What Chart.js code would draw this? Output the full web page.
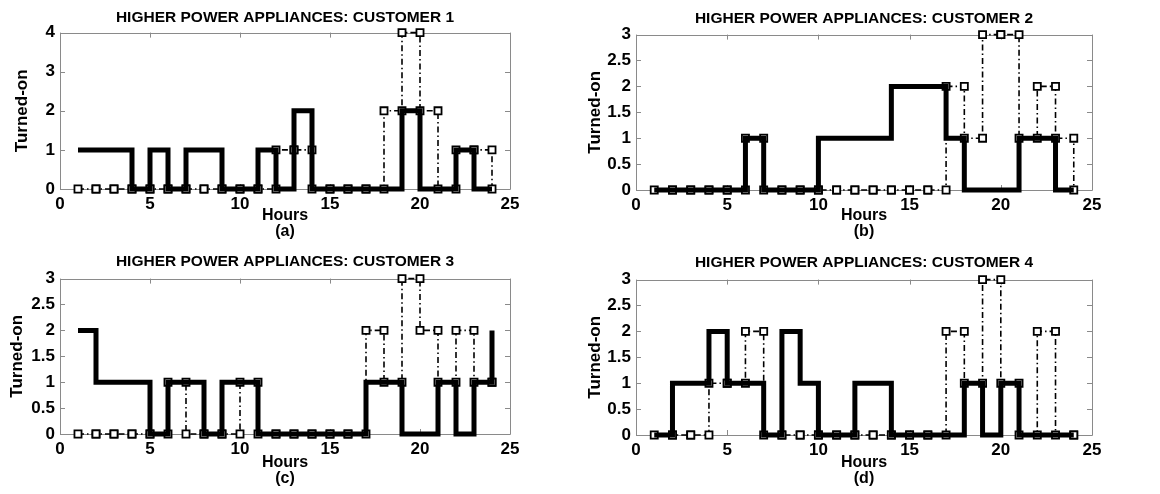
<!DOCTYPE html>
<html><head><meta charset="utf-8">
<script src="https://cdn.jsdelivr.net/npm/chart.js@4.4.1/dist/chart.umd.min.js"></script>
<style>
html,body{margin:0;padding:0;background:#fff;}
#wrap{position:relative;width:1160px;height:494px;background:#fff;}
.panel{position:absolute;width:580px;height:247px;}
canvas{display:block;}
</style></head><body>
<div id="wrap">
<div class="panel" style="left:0;top:0"><canvas id="c1" width="580" height="247"></canvas></div>
<div class="panel" style="left:580px;top:0"><canvas id="c2" width="580" height="247"></canvas></div>
<div class="panel" style="left:0;top:247px"><canvas id="c3" width="580" height="247"></canvas></div>
<div class="panel" style="left:580px;top:247px"><canvas id="c4" width="580" height="247"></canvas></div>
</div>
<script>
// ---------- DATA ----------
const hours = [1,2,3,4,5,6,7,8,9,10,11,12,13,14,15,16,17,18,19,20,21,22,23,24];
const xTickValues = [0,5,10,15,20,25];
const chartTitles = ['HIGHER POWER APPLIANCES: CUSTOMER 1','HIGHER POWER APPLIANCES: CUSTOMER 2','HIGHER POWER APPLIANCES: CUSTOMER 3','HIGHER POWER APPLIANCES: CUSTOMER 4'];
const panelLabels = ['(a)','(b)','(c)','(d)'];
const xAxisTitle = 'Hours';
const yAxisTitle = 'Turned-on';
const yMaxValues = [4,3,3,3];
const yStepValues = [1,0.5,0.5,0.5];

const solidC1 = [1,1,1,0,1,0,1,1,0,0,1,0,2,0,0,0,0,0,2,0,0,1,0,0];
const dashC1  = [0,0,0,0,0,0,0,0,0,0,0,1,1,0,0,0,0,2,4,2,0,1,1,0];
const solidC2 = [0,0,0,0,0,1,0,0,0,1,1,1,1,2,2,2,1,0,0,0,1,1,0,0];
const dashC2  = [0,0,0,0,0,1,0,0,0,0,0,0,0,0,0,0,2,1,3,3,1,2,1,0];
const solidC3 = [2,1,1,1,0,1,1,0,1,1,0,0,0,0,0,0,1,1,0,0,1,0,1,2];
const dashC3  = [0,0,0,0,0,1,0,0,0,1,0,0,0,0,0,0,2,1,3,2,1,2,1,1];
const solidC4 = [0,1,1,2,1,1,0,2,1,0,0,1,1,0,0,0,0,1,0,1,0,0,0,0];
const dashC4  = [0,0,0,1,1,2,0,0,0,0,0,0,0,0,0,0,2,1,3,1,0,2,0,0];

const solidSeries = [solidC1, solidC2, solidC3, solidC4];
const dashSeries = [dashC1, dashC2, dashC3, dashC4];

// ---------- LAYOUT (pixel geometry per panel) ----------
const geom = [
  {left:60, right:510, titleTop:8, titleBottom:6, bottom:189, yTitlePad:12},
  {left:56, right:512, titleTop:9, titleBottom:7, bottom:190, yTitlePad:5},
  {left:60, right:510, titleTop:5, titleBottom:8, bottom:187, yTitlePad:7},
  {left:56, right:512, titleTop:6, titleBottom:8, bottom:188, yTitlePad:5}
];
const W = 580, H = 247;
const FONT = "'Liberation Sans', Arial, Helvetica, sans-serif";

function toPoints(xs, ys){ return xs.map((x,i)=>({x:x, y:ys[i]})); }
// corners of a stairs plot (markers at every corner, as in the reference)
function stairCorners(xs, ys){
  const pts = [];
  for (let i=0;i<xs.length;i++){
    if (i>0) pts.push({x:xs[i], y:ys[i-1]});
    pts.push({x:xs[i], y:ys[i]});
  }
  return pts;
}

const boxPlugin = {
  id: 'matlabBox',
  beforeDatasetsDraw(chart){
    const {ctx, chartArea:a, scales:{x, y}} = chart;
    ctx.save();
    ctx.strokeStyle = '#8a8a8a';
    ctx.lineWidth = 1;
    ctx.beginPath();
    ctx.rect(Math.round(a.left)+0.5, Math.round(a.top)+0.5, Math.round(a.right-a.left), Math.round(a.bottom-a.top));
    ctx.stroke();
    const tl = 5;
    ctx.beginPath();
    x.ticks.forEach(t=>{
      const px = Math.round(x.getPixelForValue(t.value))+0.5;
      ctx.moveTo(px, a.bottom); ctx.lineTo(px, a.bottom - tl);
      ctx.moveTo(px, a.top); ctx.lineTo(px, a.top + tl);
    });
    y.ticks.forEach(t=>{
      const py = Math.round(y.getPixelForValue(t.value))+0.5;
      ctx.moveTo(a.left, py); ctx.lineTo(a.left + tl, py);
      ctx.moveTo(a.right, py); ctx.lineTo(a.right - tl, py);
    });
    ctx.stroke();
    ctx.restore();
  }
};

for (let k=0;k<4;k++){
  const g = geom[k];
  new Chart(document.getElementById('c'+(k+1)), {
    type: 'line',
    data: {
      datasets: [
        {
          data: toPoints(hours, solidSeries[k]),
          stepped: 'before',
          borderColor: '#000',
          borderWidth: 5,
          borderJoinStyle: 'miter',
          borderCapStyle: 'butt',
          pointRadius: 0,
          fill: false,
          clip: false,
          order: 0
        },
        {
          data: stairCorners(hours, dashSeries[k]),
          borderColor: '#000',
          borderWidth: 1.6,
          borderDash: [6,3,1.5,3],
          pointStyle: 'rect',
          pointRadius: 5,
          pointBorderWidth: 1.8,
          pointBorderColor: '#000',
          pointBackgroundColor: '#fff',
          fill: false,
          tension: 0,
          clip: false,
          order: 1
        }
      ]
    },
    options: {
      responsive: false,
      animation: false,
      devicePixelRatio: 1,
      layout: { padding: { left: 0, right: W - g.right, top: 0, bottom: 0 } },
      plugins: {
        legend: { display: false },
        tooltip: { enabled: false },
        title: {
          display: true,
          fullSize: false,
          text: chartTitles[k],
          color: '#000',
          font: { family: FONT, size: 15.5, weight: 'bold', lineHeight: 1.2 },
          padding: { top: g.titleTop, bottom: g.titleBottom }
        }
      },
      scales: {
        x: {
          type: 'linear',
          min: 0, max: 25,
          afterBuildTicks: (s)=>{ s.ticks = xTickValues.map(v=>({value:v})); },
          ticks: { color: '#000', font: { family: FONT, size: 17, weight: 'bold' }, padding: 5, maxRotation: 0, autoSkip: false, callback: v=>String(v) },
          grid: { display: false, drawTicks: false },
          border: { display: false },
          title: {
            display: true,
            text: [xAxisTitle, panelLabels[k]],
            color: '#000',
            font: { family: FONT, size: 16, weight: 'bold', lineHeight: 1.0 },
            padding: { top: 0, bottom: 7 }
          },
          afterFit: (s)=>{ s.height = H - g.bottom; }
        },
        y: {
          type: 'linear',
          min: 0, max: yMaxValues[k],
          ticks: { stepSize: yStepValues[k], color: '#000', font: { family: FONT, size: 17, weight: 'bold' }, padding: 5, callback: v=>String(v) },
          grid: { display: false, drawTicks: false },
          border: { display: false },
          title: {
            display: true,
            text: yAxisTitle,
            color: '#000',
            font: { family: FONT, size: 17, weight: 'bold', lineHeight: 1.2 },
            padding: { top: g.yTitlePad, bottom: 0 }
          },
          afterFit: (s)=>{ s.width = g.left; }
        }
      }
    },
    plugins: [boxPlugin]
  });
}
</script>
</body></html>
